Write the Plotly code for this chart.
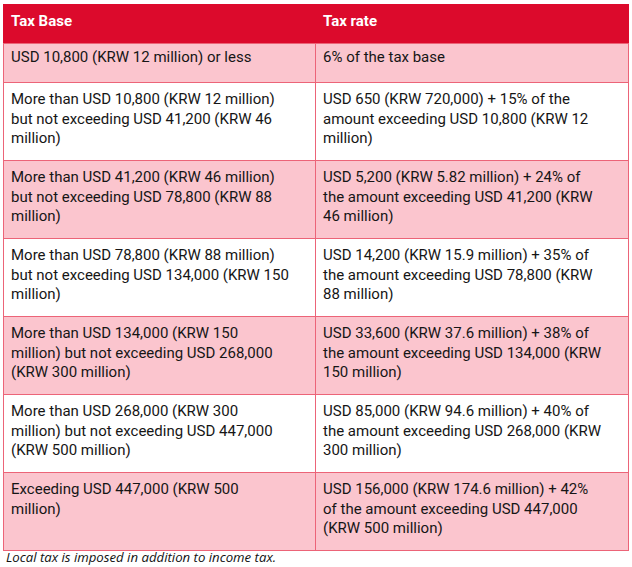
import plotly.graph_objects as go

header_labels = ["<b>Tax Base</b>", "<b>Tax rate</b>"]

tax_base = [
    "USD 10,800 (KRW 12 million) or less",
    "More than USD 10,800 (KRW 12 million)<br>but not exceeding USD 41,200 (KRW 46<br>million)",
    "More than USD 41,200 (KRW 46 million)<br>but not exceeding USD 78,800 (KRW 88<br>million)",
    "More than USD 78,800 (KRW 88 million)<br>but not exceeding USD 134,000 (KRW 150<br>million)",
    "More than USD 134,000 (KRW 150<br>million) but not exceeding USD 268,000<br>(KRW 300 million)",
    "More than USD 268,000 (KRW 300<br>million) but not exceeding USD 447,000<br>(KRW 500 million)",
    "Exceeding USD 447,000 (KRW 500<br>million)",
]

tax_rate = [
    "6% of the tax base",
    "USD 650 (KRW 720,000) + 15% of the<br>amount exceeding USD 10,800 (KRW 12<br>million)",
    "USD 5,200 (KRW 5.82 million) + 24% of<br>the amount exceeding USD 41,200 (KRW<br>46 million)",
    "USD 14,200 (KRW 15.9 million) + 35% of<br>the amount exceeding USD 78,800 (KRW<br>88 million)",
    "USD 33,600 (KRW 37.6 million) + 38% of<br>the amount exceeding USD 134,000 (KRW<br>150 million)",
    "USD 85,000 (KRW 94.6 million) + 40% of<br>the amount exceeding USD 268,000 (KRW<br>300 million)",
    "USD 156,000 (KRW 174.6 million) + 42%<br>of the amount exceeding USD 447,000<br>(KRW 500 million)",
]

footnote = "Local tax is imposed in addition to income tax."

RED = "#DC0A2C"
PINK = "#FBC5CE"
WHITE = "#FFFFFF"
BORDER = "#EC6478"
TEXT = "#161616"

# first data row shares the header block (single-line row), the rest are 3-line rows
head_cols = [[header_labels[0], tax_base[0]], [header_labels[1], tax_rate[0]]]
body_cols = [tax_base[1:], tax_rate[1:]]
body_fill = [PINK if i % 2 == 1 else WHITE for i in range(len(tax_base) - 1)]

W, H = 632, 567

fig = go.Figure(
    go.Table(
        domain=dict(x=[3 / W, 628 / W], y=[0, 1 - 4 / H]),
        columnwidth=[312, 313],
        header=dict(
            values=head_cols,
            fill_color=[[RED, PINK], [RED, PINK]],
            line=dict(color=[[RED, BORDER], [RED, BORDER]], width=1),
            font=dict(family="Roboto", size=15, color=[["white", TEXT], ["white", TEXT]]),
            align="left",
            height=39,
        ),
        cells=dict(
            values=body_cols,
            fill_color=[body_fill, body_fill],
            line=dict(color=BORDER, width=1),
            font=dict(family="Roboto", size=15, color=TEXT),
            align="left",
            height=78,
        ),
    )
)

fig.add_annotation(
    text=f"<i>{footnote}</i>",
    x=4 / W, y=1 - 557 / H, xref="paper", yref="paper",
    xanchor="left", yanchor="middle", showarrow=False,
    font=dict(family="Open Sans", size=13.2, color="#111111"),
)

fig.update_layout(
    width=W, height=H,
    margin=dict(l=0, r=0, t=0, b=0),
    paper_bgcolor="white", plot_bgcolor="white",
)

fig.write_html(
    "out.html",
    config={"displayModeBar": False},
    post_script="document.body.style.margin='0';document.body.style.overflow='hidden';",
)
